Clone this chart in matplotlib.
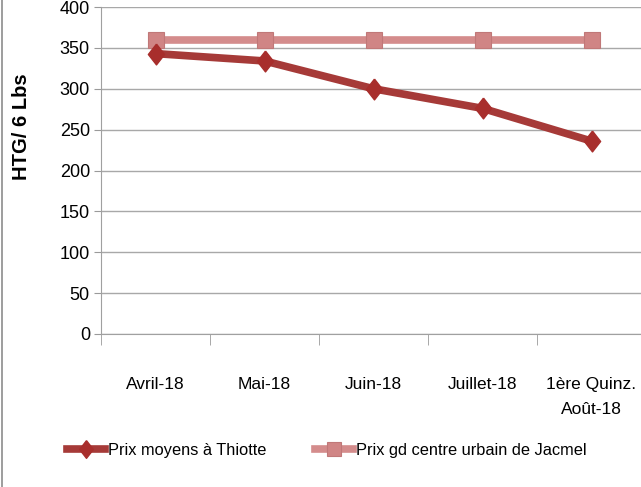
import matplotlib.pyplot as plt
from matplotlib.lines import Line2D

# data
months = ['Avril-18', 'Mai-18', 'Juin-18', 'Juillet-18', '1ère Quinz.\nAoût-18']
prix_thiotte = [343, 334, 300, 276, 236]
prix_jacmel = [360, 360, 360, 360, 360]

plt.rcParams['font.family'] = ['Liberation Sans', 'DejaVu Sans']

fig = plt.figure(figsize=(6.41, 4.87), dpi=100)
ax = fig.add_axes([101/641, 1-334/487, 545/641, 327/487])

# slightly tall diamond like the original marker
diamond = [(0, 1), (0.78, 0), (0, -1), (-0.78, 0), (0, 1)]

x = list(range(len(months)))
ax.plot(x, prix_jacmel, color='#D48C8C', lw=5.5, marker='s', markersize=12,
        markerfacecolor='#D08585', markeredgecolor='#C07878', markeredgewidth=0.8,
        label='Prix gd centre urbain de Jacmel', zorder=3)
ax.plot(x, prix_thiotte, color='#A63A38', lw=5.5, marker=diamond, markersize=15,
        markerfacecolor='#A82E2C', markeredgecolor='#A82E2C',
        label='Prix moyens à Thiotte', zorder=4)

ax.set_ylim(0, 400)
ax.set_yticks(range(0, 401, 50))
ax.set_xlim(-0.5, 4.5)
ax.set_xticks(x)
ax.set_xticklabels(months, fontsize=12.5, linespacing=1.8)
ax.set_xticks([i - 0.5 for i in range(6)], minor=True)
ax.tick_params(axis='x', which='major', length=0, pad=31)
ax.tick_params(axis='x', which='minor', length=8, color='#9A9A9A')
ax.tick_params(axis='y', length=5, color='#9A9A9A', labelsize=13, pad=3)

ax.grid(axis='y', color='#A8A8A8', lw=1)
ax.set_axisbelow(True)
for s in ['top', 'right']:
    ax.spines[s].set_visible(False)
ax.spines['left'].set_color('#A0A0A0')
ax.spines['bottom'].set_color('#A0A0A0')

ax.set_ylabel('HTG/ 6 Lbs', fontsize=14.5, fontweight='bold')
ax.yaxis.set_label_coords(-0.128, 0.635)

handles, labels = ax.get_legend_handles_labels()
fig.legend(handles[::-1], labels[::-1], loc='center', bbox_to_anchor=(0.51, 1-450/487),
           ncol=2, frameon=False, fontsize=11.8, handlelength=2.3, columnspacing=3.0,
           handletextpad=0.2, markerscale=0.85)

# chart border on the left
fig.add_artist(Line2D([2/641, 2/641], [0, 1], color='#8C8C8C', lw=1.2))

fig.savefig('out.png', dpi=100)
